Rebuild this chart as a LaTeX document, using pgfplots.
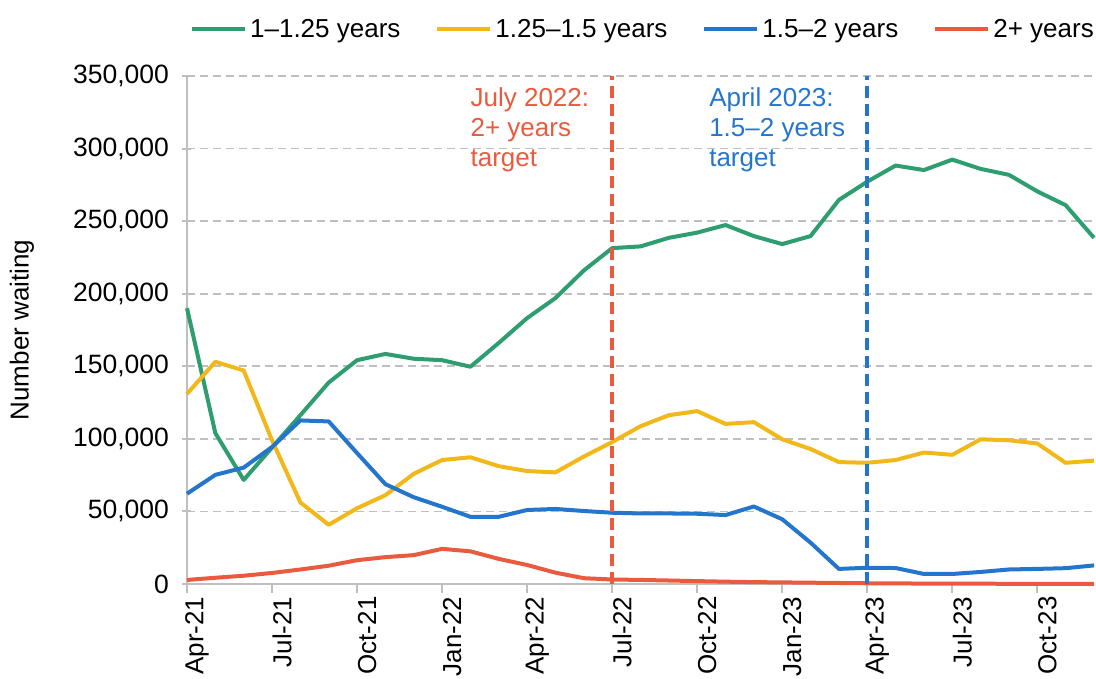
\documentclass[border=0pt]{standalone}
\usepackage{pgfplots}
\pgfplotsset{compat=1.18}
\usepackage{fontspec}
\setmainfont{Liberation Sans}
\definecolor{cgreen}{RGB}{46,158,112}
\definecolor{cyellow}{RGB}{242,184,26}
\definecolor{cblue}{RGB}{36,118,205}
\definecolor{cred}{RGB}{234,90,62}
\definecolor{cgrid}{RGB}{191,191,191}
\newcommand{\bigfont}{\fontsize{26pt}{30pt}\selectfont}
\begin{document}
\begin{tikzpicture}
\useasboundingbox (0pt,0pt) rectangle (1096pt,678pt);
\begin{axis}[
  at={(187pt,94pt)}, anchor=south west,
  width=907pt, height=508pt, scale only axis,
  xmin=0, xmax=32, ymin=0, ymax=350000,
  axis x line*=bottom, axis y line*=left,
  axis line style={cgrid, line width=2pt},
  xtick={0,3,6,9,12,15,18,21,24,27,30},
  xticklabels={Apr-21,Jul-21,Oct-21,Jan-22,Apr-22,Jul-22,Oct-22,Jan-23,Apr-23,Jul-23,Oct-23},
  ytick={0,50000,100000,150000,200000,250000,300000,350000},
  scaled y ticks=false,
  yticklabel={\pgfmathprintnumber[fixed,precision=0,1000 sep={,},assume math mode=true]{\tick}},
  tick label style={font=\bigfont, black},
  xticklabel style={rotate=90, anchor=east, xshift=0pt, yshift=-10pt},
  yticklabel style={anchor=east, xshift=-10pt, font=\fontsize{26.5pt}{30pt}\selectfont},
  xtick align=outside, ytick align=center,
  major tick length=9pt,
  tick style={cgrid, line width=2pt},
  ymajorgrids,
  major grid style={cgrid, line width=1.8pt, dash pattern=on 8pt off 5pt},
  ylabel={Number waiting},
  ylabel style={at={(axis description cs:-0.1819,0.5)}, anchor=center, font=\bigfont},
  legend columns=4,
  legend style={at={(rel axis cs:1,1)}, anchor=south east, xshift=3pt, yshift=34pt, draw=none, fill=none,
    font=\bigfont, inner sep=0pt, nodes={inner sep=3pt},
    /tikz/every even column/.append style={column sep=32pt}},
  legend image code/.code={\draw[#1] (0pt,0pt) -- (53pt,0pt);},
  every axis plot/.append style={line width=4pt, line join=round},
  clip=false,
]
\addplot[cgreen] coordinates {
(0,190000)(1,104000)(2,71700)(3,94000)(4,116300)(5,138800)(6,154200)(7,158500)(8,155200)(9,154200)(10,149700)
(11,166100)(12,183200)(13,197000)(14,216000)(15,231400)(16,232600)(17,238500)(18,242100)(19,247300)(20,239700)
(21,234200)(22,239700)(23,264600)(24,277200)(25,288300)(26,285200)(27,292400)(28,286000)(29,281900)(30,270500)
(31,261000)(32,238500)};
\addlegendentry{1–1.25 years}
\addplot[cyellow] coordinates {
(0,131000)(1,153100)(2,147100)(3,99000)(4,56200)(5,40800)(6,52200)(7,61200)(8,75900)(9,85400)(10,87300)
(11,81200)(12,77800)(13,76900)(14,87800)(15,97800)(16,108700)(17,116300)(18,119100)(19,110300)(20,111500)
(21,99700)(22,93000)(23,84000)(24,83500)(25,85400)(26,90600)(27,89000)(28,99700)(29,99000)(30,96800)
(31,83500)(32,85000)};
\addlegendentry{1.25–1.5 years}
\addplot[cblue] coordinates {
(0,62200)(1,75200)(2,80200)(3,94400)(4,112700)(5,112000)(6,90200)(7,68800)(8,59800)(9,53200)(10,46300)
(11,46300)(12,51000)(13,51700)(14,50300)(15,49100)(16,48600)(17,48600)(18,48400)(19,47500)(20,53400)
(21,44600)(22,28500)(23,10400)(24,11200)(25,11000)(26,6900)(27,6900)(28,8300)(29,10000)(30,10400)
(31,10900)(32,12800)};
\addlegendentry{1.5–2 years}
\addplot[cred] coordinates {
(0,2800)(1,4300)(2,5700)(3,7600)(4,10000)(5,12600)(6,16400)(7,18500)(8,19900)(9,24200)(10,22500)
(11,17300)(12,13100)(13,7800)(14,4000)(15,3100)(16,2800)(17,2400)(18,2000)(19,1600)(20,1300)
(21,1100)(22,900)(23,700)(24,500)(25,400)(26,300)(27,250)(28,200)(29,150)(30,100)
(31,80)(32,50)};
\addlegendentry{2+ years}
\addplot[cred, line width=4pt, dash pattern=on 12pt off 6pt, forget plot] coordinates {(15,0)(15,350000)};
\addplot[cblue, line width=4pt, dash pattern=on 12pt off 6pt, forget plot] coordinates {(24,0)(24,350000)};
\node[anchor=north west, align=left, inner sep=0pt, text=cred, font=\bigfont] at (axis cs:10.0,342000) {July 2022:\\2+ years\\target};
\node[anchor=north west, align=left, inner sep=0pt, text=cblue, font=\bigfont] at (axis cs:18.42,342000) {April 2023:\\1.5–2 years\\target};
\end{axis}
\end{tikzpicture}
\end{document}
